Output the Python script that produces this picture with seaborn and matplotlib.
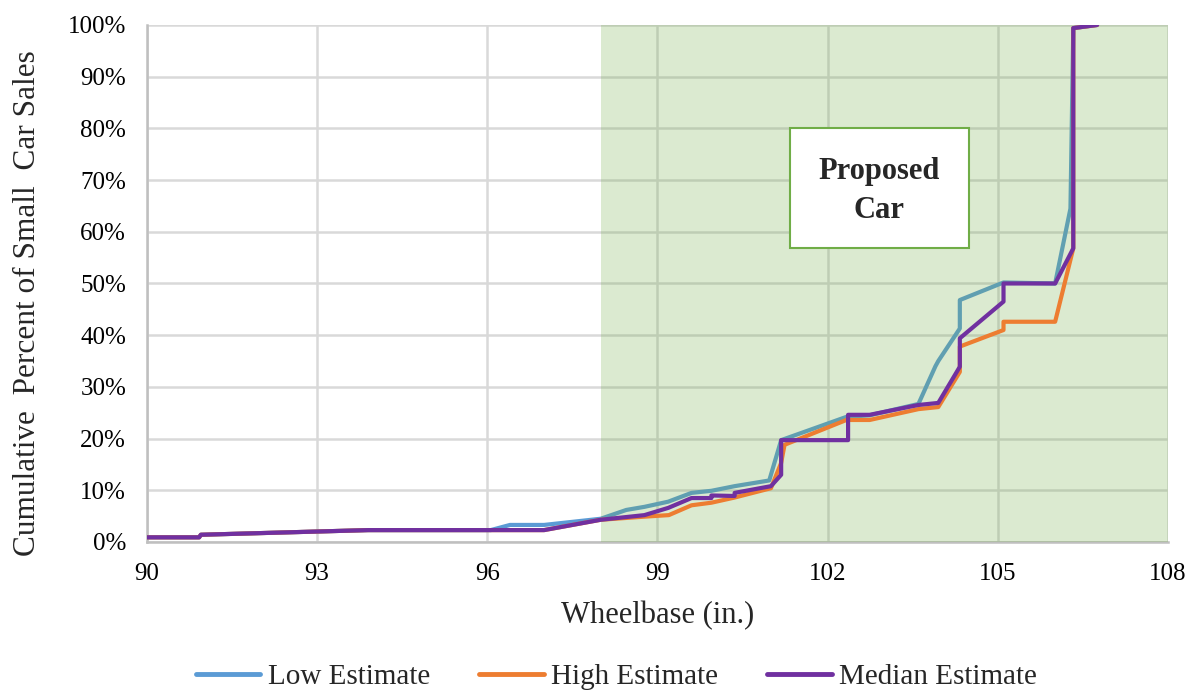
import matplotlib
matplotlib.use("Agg")
import matplotlib.pyplot as plt
import seaborn as sns
import pandas as pd
from matplotlib.patches import Rectangle
from matplotlib.lines import Line2D
from matplotlib.ticker import FuncFormatter

# ---- data ----
low_x = [90, 90.92, 90.95, 93.9, 96.06, 96.4, 97.0, 98.0, 98.45, 98.77, 99.19, 99.6, 99.95,
         100.36, 100.97, 101.18, 102.33, 102.74, 103.6, 103.9, 103.95, 104.33, 104.33,
         105.1, 106.01, 106.28, 106.33, 106.75]
low_y = [0.9, 0.9, 1.4, 2.3, 2.3, 3.3, 3.3, 4.5, 6.2, 6.8, 7.8, 9.5, 9.9,
         10.8, 11.9, 19.7, 24.2, 24.5, 26.7, 34.0, 35.0, 41.3, 46.8,
         50.2, 50.0, 64.5, 99.4, 100]

high_x = [90, 90.92, 90.95, 93.9, 97.0, 98.0, 98.77, 99.2, 99.6, 99.95, 100.36, 101.0,
          101.18, 101.24, 102.33, 102.74, 103.6, 103.95, 104.33, 104.33, 105.1, 105.1,
          106.01, 106.33, 106.33, 106.75]
high_y = [0.9, 0.9, 1.4, 2.3, 2.3, 4.3, 4.9, 5.2, 7.1, 7.6, 8.6, 10.4,
          15.3, 18.8, 23.6, 23.6, 25.7, 26.1, 32.9, 37.8, 41.0, 42.6,
          42.6, 56.8, 99.4, 100]

med_x = [90, 90.92, 90.95, 93.9, 97.0, 98.0, 98.77, 99.19, 99.6, 99.95, 99.95, 100.36,
         100.36, 101.0, 101.18, 101.18, 102.36, 102.36, 102.74, 103.6, 103.95, 104.33,
         104.33, 105.1, 105.1, 106.01, 106.33, 106.33, 106.75]
med_y = [0.9, 0.9, 1.4, 2.3, 2.3, 4.3, 5.2, 6.6, 8.5, 8.5, 9.0, 8.9,
         9.5, 10.8, 13.0, 19.7, 19.7, 24.6, 24.6, 26.5, 26.9, 33.9,
         39.4, 46.5, 50.0, 50.0, 56.8, 99.4, 100]

series_names = ["Low Estimate", "High Estimate", "Median Estimate"]
series_colors = ["#5B9BD5", "#ED7D31", "#7030A0"]
x_ticks = [90, 93, 96, 99, 102, 105, 108]
y_ticks = [0, 10, 20, 30, 40, 50, 60, 70, 80, 90, 100]
shade_range = (98, 108)
box_text = "Proposed\nCar"
box_x = (101.33, 104.49)
box_y = (56.9, 80.0)

# ---- build tidy frame ----
frames = []
for name, xs, ys in zip(series_names, [low_x, high_x, med_x], [low_y, high_y, med_y]):
    frames.append(pd.DataFrame({"x": xs, "y": ys, "series": name, "order": range(len(xs))}))
df = pd.concat(frames, ignore_index=True)

sns.set_theme(style="white")
plt.rcParams["font.family"] = ["Liberation Serif", "DejaVu Serif"]

fig = plt.figure(figsize=(11.91, 6.98), dpi=100)
ax = fig.add_axes([0.1234, 0.2235, 0.8573, 0.7407])

for i, (name, color) in enumerate(zip(series_names, series_colors)):
    sub = df[df["series"] == name]
    sns.lineplot(data=sub, x="x", y="y", sort=False, estimator=None, ax=ax,
                 color=color, linewidth=3.0, zorder=3 + i, legend=False)

# shaded proposed-car region (semi-transparent, over lines)
ax.add_patch(Rectangle((shade_range[0], 0), shade_range[1] - shade_range[0], 100,
                       facecolor="#70AD47", alpha=0.25, edgecolor="none", zorder=3.5))

# text box
ax.add_patch(Rectangle((box_x[0], box_y[0]), box_x[1] - box_x[0], box_y[1] - box_y[0],
                       facecolor="white", edgecolor="#70AD47", linewidth=1.5, zorder=6))
ax.text((box_x[0] + box_x[1]) / 2, (box_y[0] + box_y[1]) / 2 - 0.6, box_text,
        ha="center", va="center", fontsize=22, fontweight="bold", zorder=7,
        linespacing=1.45)

ax.set_xlim(x_ticks[0], x_ticks[-1])
ax.set_ylim(y_ticks[0], y_ticks[-1])
ax.set_xticks(x_ticks)
ax.set_yticks(y_ticks)
ax.yaxis.set_major_formatter(FuncFormatter(lambda v, p: f"{int(v)}%"))
ax.grid(True, color="#D9D9D9", linewidth=1.8, zorder=0)
ax.set_axisbelow(True)
for s in ["top", "right"]:
    ax.spines[s].set_visible(False)
for s in ["left", "bottom"]:
    ax.spines[s].set_color("#BFBFBF")
    ax.spines[s].set_linewidth(1.8)
ax.tick_params(axis="both", labelsize=18, length=0, colors="black")
ax.tick_params(axis="y", pad=15)
ax.tick_params(axis="x", pad=15)

ax.set_xlabel("Wheelbase (in.)", fontsize=22, va="center")
ax.set_ylabel("Cumulative  Percent of Small  Car Sales", fontsize=22.5, va="center")
ax.xaxis.set_label_coords(0.5, -0.142)
ax.yaxis.set_label_coords(-0.117, 0.462)

handles = [Line2D([0], [0], color=c, linewidth=3.5) for c in series_colors]
fig.legend(handles, series_names, loc="center", ncol=3, frameon=False,
           fontsize=21, bbox_to_anchor=(0.5176, 0.030), handlelength=2.2,
           columnspacing=1.7, handletextpad=0.25)

fig.savefig("out.png", dpi=100)
